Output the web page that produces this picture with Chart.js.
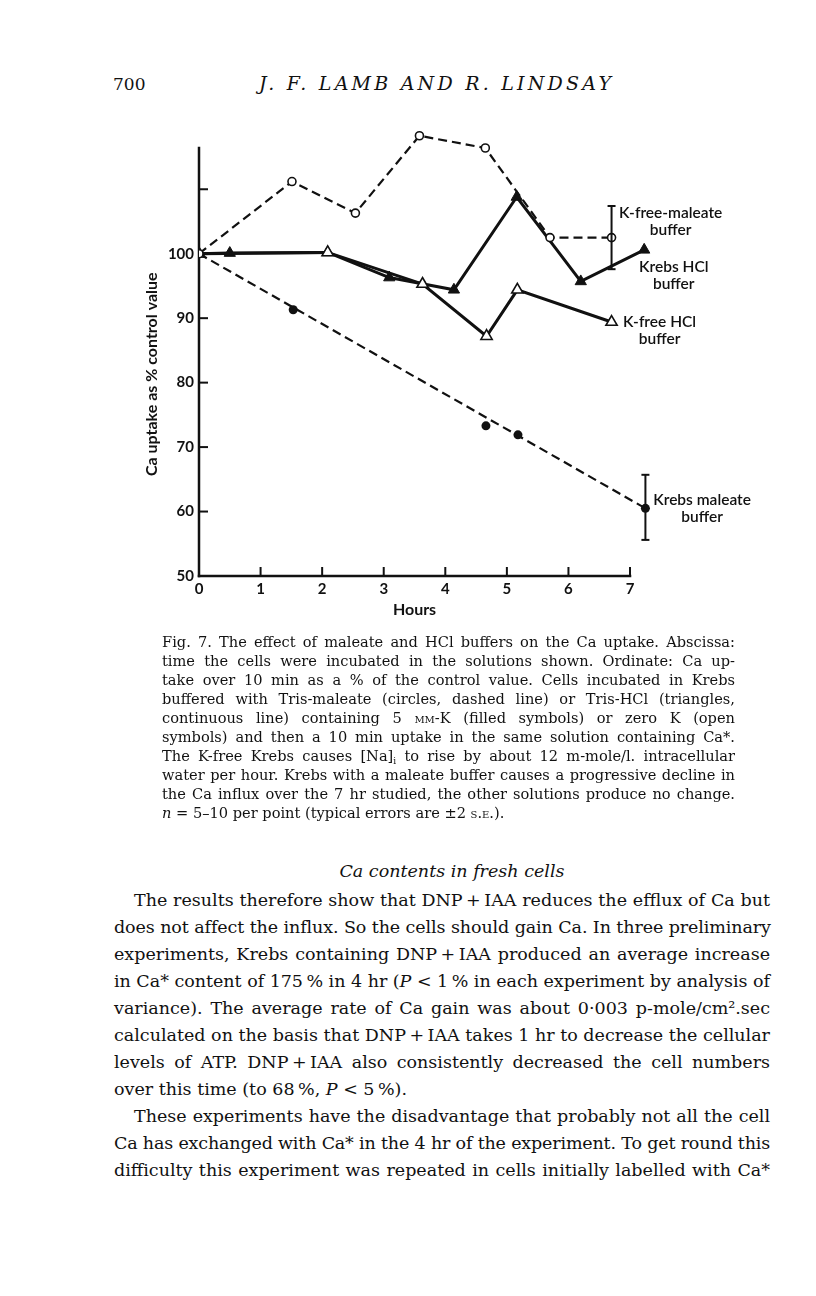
<!DOCTYPE html>
<html>
<head>
<meta charset="utf-8">
<script src="https://cdn.jsdelivr.net/npm/chart.js@4"></script>
<style>
  html, body { margin: 0; padding: 0; background: #fff; }
  body { position: relative; width: 816px; height: 1296px; overflow: hidden;
         font-family: "DejaVu Serif", serif; color: #111; }
  .abs { position: absolute; white-space: nowrap; }
  #chart { position: absolute; left: 100px; top: 110px; }
  .blk { position: absolute; }
  .ln { white-space: nowrap; }
  .ln.j { text-align: justify; text-align-last: justify; }
  .ind { text-indent: 20px; }
  .sc { font-variant: small-caps; }
  sub { font-size: 9px; line-height: 0; vertical-align: -3px; }
  i { font-style: italic; }
</style>
</head>
<body>
<div class="abs" style="left:113px;top:74px;font-size:17px">700</div>
<div class="abs" id="runhead" style="left:259px;top:72px;font-size:19px;font-style:italic">J. F. LAMB AND R. LINDSAY</div>

<canvas id="chart" width="680" height="526"></canvas>

<div class="blk" style="left:162px;top:632px;width:573px;font-size:14.6px;line-height:19px">
  <div class="ln"><span>Fig. 7. The effect of maleate and HCl buffers on the Ca uptake. Abscissa:</span></div>
  <div class="ln"><span>time the cells were incubated in the solutions shown. Ordinate: Ca up-</span></div>
  <div class="ln"><span>take over 10 min as a % of the control value. Cells incubated in Krebs</span></div>
  <div class="ln"><span>buffered with Tris-maleate (circles, dashed line) or Tris-HCl (triangles,</span></div>
  <div class="ln"><span>continuous line) containing 5 <span class="sc">mm</span>-K (filled symbols) or zero K (open</span></div>
  <div class="ln"><span>symbols) and then a 10 min uptake in the same solution containing Ca*.</span></div>
  <div class="ln"><span>The K-free Krebs causes [Na]<sub>i</sub> to rise by about 12 m-mole/l. intracellular</span></div>
  <div class="ln"><span>water per hour. Krebs with a maleate buffer causes a progressive decline in</span></div>
  <div class="ln"><span>the Ca influx over the 7 hr studied, the other solutions produce no change.</span></div>
  <div class="ln last"><span><i>n</i> = 5–10 per point (typical errors are ±2 <span class="sc">s.e.</span>).</span></div>
</div>

<div class="abs" style="left:124px;width:656px;top:861px;font-size:17.5px;font-style:italic;text-align:center">Ca contents in fresh cells</div>

<div class="blk" style="left:114px;top:887px;width:656px;font-size:17.5px;line-height:27px">
  <div class="ln ind"><span>The results therefore show that DNP&#8201;+&#8201;IAA reduces the efflux of Ca but</span></div>
  <div class="ln"><span>does not affect the influx. So the cells should gain Ca. In three preliminary</span></div>
  <div class="ln"><span>experiments, Krebs containing DNP&#8201;+&#8201;IAA produced an average increase</span></div>
  <div class="ln"><span>in Ca* content of 175&#8201;% in 4 hr (<i>P</i> &lt; 1&#8201;% in each experiment by analysis of</span></div>
  <div class="ln"><span>variance). The average rate of Ca gain was about 0·003 p-mole/cm².sec</span></div>
  <div class="ln"><span>calculated on the basis that DNP&#8201;+&#8201;IAA takes 1 hr to decrease the cellular</span></div>
  <div class="ln"><span>levels of ATP. DNP&#8201;+&#8201;IAA also consistently decreased the cell numbers</span></div>
  <div class="ln last"><span>over this time (to 68&#8201;%, <i>P</i> &lt; 5&#8201;%).</span></div>
  <div class="ln ind"><span>These experiments have the disadvantage that probably not all the cell</span></div>
  <div class="ln"><span>Ca has exchanged with Ca* in the 4 hr of the experiment. To get round this</span></div>
  <div class="ln"><span>difficulty this experiment was repeated in cells initially labelled with Ca*</span></div>
</div>

<script>
const INK = '#111'
const SANS = 'Lato, "Open Sans", sans-serif'

// axes
const HOURS_TICKS = [0, 1, 2, 3, 4, 5, 6, 7]
const PCT_TICKS = [50, 60, 70, 80, 90, 100, 110]
const X_AXIS_END = 7
const Y_AXIS_TOP = 116.4

// K-free maleate: open circles, dashed line
const KFREE_MALEATE_X = [0, 1.51, 2.54, 3.58, 4.65, 5.70, 6.70]
const KFREE_MALEATE_Y = [100, 111.2, 106.3, 118.3, 116.4, 102.5, 102.5]

// Krebs maleate: filled circles, dashed fitted line
const KREBS_MALEATE_X = [0, 1.53, 4.66, 5.18, 7.25]
const KREBS_MALEATE_Y = [100, 91.3, 73.3, 71.9, 60.5]
const KREBS_MALEATE_FIT_X = [0, 7.25]
const KREBS_MALEATE_FIT_Y = [100, 60.5]

// Krebs HCl: filled triangles, continuous line
const KREBS_HCL_X = [0, 0.5, 2.09, 3.09, 4.14, 5.16, 6.20, 7.23]
const KREBS_HCL_Y = [100, 100.1, 100.2, 96.3, 94.4, 108.8, 95.7, 100.6]

// K-free HCl: open triangles, continuous line
const KFREE_HCL_X = [0, 2.09, 3.63, 4.67, 5.17, 6.70]
const KFREE_HCL_Y = [100, 100.2, 95.3, 87.2, 94.4, 89.4]

// typical error bars (± 2 s.e.)
const ERR_X = [6.70, 7.25]
const ERR_LO = [97.6, 55.6]
const ERR_HI = [107.4, 65.7]

// curve labels, anchored in data units
const NOTE_TEXT = [['K-free-maleate', 'buffer'], ['Krebs HCl', 'buffer'], ['K-free HCl', 'buffer'], ['Krebs maleate', 'buffer']]
const NOTE_X = [7.66, 7.71, 7.48, 8.17]
const NOTE_Y = [106.3, 97.9, 89.4, 61.8]

const pts = (xs, ys) => xs.map((x, i) => ({ x, y: ys[i] }))

// axis lines that stop at 7 h / ~116 %, inward ticks, titles
const paperAxes = {
  id: 'paperAxes',
  beforeDatasetsDraw(chart) {
    const { ctx, scales: { x, y } } = chart
    const seg = (x1, y1, x2, y2) => { ctx.beginPath(); ctx.moveTo(x1, y1); ctx.lineTo(x2, y2); ctx.stroke() }
    const x0 = x.getPixelForValue(0), x7 = x.getPixelForValue(X_AXIS_END)
    const y50 = y.getPixelForValue(50), yTop = y.getPixelForValue(Y_AXIS_TOP)
    ctx.save()
    ctx.strokeStyle = INK
    ctx.lineCap = 'square'
    ctx.lineWidth = 2.5
    seg(x0, y50, x7, y50)
    seg(x0, y50, x0, yTop)
    ctx.lineWidth = 2
    ctx.lineCap = 'butt'
    HOURS_TICKS.slice(1).forEach(h => {
      const px = x.getPixelForValue(h)
      seg(px, y50, px, y50 - 9)
    })
    PCT_TICKS.slice(1).forEach(v => {
      const py = y.getPixelForValue(v)
      seg(x0, py, x0 + 9, py)
    })

    ctx.fillStyle = INK
    ctx.textAlign = 'center'
    ctx.textBaseline = 'middle'
    ctx.font = 'bold 16px ' + SANS
    ctx.fillText('Hours', x.getPixelForValue(3.5), y50 + 34)
    ctx.translate(x0 - 47, y.getPixelForValue(81.3))
    ctx.rotate(-Math.PI / 2)
    ctx.fillText('Ca uptake as % control value', 0, 0)
    ctx.restore()
  },
  afterDatasetsDraw(chart) {
    const { ctx, scales: { x, y } } = chart
    const seg = (x1, y1, x2, y2) => { ctx.beginPath(); ctx.moveTo(x1, y1); ctx.lineTo(x2, y2); ctx.stroke() }
    ctx.save()
    ctx.strokeStyle = INK
    ctx.lineWidth = 2
    ERR_X.forEach((ex, i) => {
      const px = x.getPixelForValue(ex)
      const lo = y.getPixelForValue(ERR_LO[i])
      const hi = y.getPixelForValue(ERR_HI[i])
      seg(px, lo, px, hi)
      seg(px - 4, lo, px + 4, lo)
      seg(px - 4, hi, px + 4, hi)
    })
    ctx.fillStyle = INK
    ctx.font = '600 15.5px ' + SANS
    ctx.textAlign = 'center'
    ctx.textBaseline = 'middle'
    NOTE_TEXT.forEach((lines, i) => {
      const cx = x.getPixelForValue(NOTE_X[i])
      const cy = y.getPixelForValue(NOTE_Y[i])
      lines.forEach((t, j) => ctx.fillText(t, cx, cy + j * 17))
    })
    ctx.restore()
  }
}

const tickFont = { family: SANS, size: 15, weight: 'bold' }
const dashed = { borderColor: INK, borderWidth: 2.2, borderDash: [9, 5] }
const solid = { borderColor: INK, borderWidth: 3 }

new Chart(document.getElementById('chart'), {
  type: 'line',
  data: {
    datasets: [
      {
        label: 'K-free maleate', ...dashed,
        data: pts(KFREE_MALEATE_X, KFREE_MALEATE_Y),
        pointStyle: 'circle', pointRadius: 4, pointBorderWidth: 1.6,
        pointBackgroundColor: '#fff', pointBorderColor: INK
      },
      {
        label: 'Krebs maleate fit', ...dashed,
        data: pts(KREBS_MALEATE_FIT_X, KREBS_MALEATE_FIT_Y),
        pointRadius: 0
      },
      {
        label: 'Krebs maleate',
        data: pts(KREBS_MALEATE_X, KREBS_MALEATE_Y),
        showLine: false,
        pointStyle: 'circle', pointRadius: 4.5, pointBorderWidth: 0,
        pointBackgroundColor: INK
      },
      {
        label: 'K-free HCl', ...solid,
        data: pts(KFREE_HCL_X, KFREE_HCL_Y),
        pointStyle: 'triangle', pointRadius: 6.5, pointBorderWidth: 1.6,
        pointBackgroundColor: '#fff', pointBorderColor: INK
      },
      {
        label: 'Krebs HCl', ...solid,
        data: pts(KREBS_HCL_X, KREBS_HCL_Y),
        pointStyle: 'triangle', pointRadius: 6.5, pointBorderWidth: 1,
        pointBackgroundColor: INK, pointBorderColor: INK
      }
    ]
  },
  options: {
    responsive: false,
    animation: false,
    layout: { padding: { left: 0, top: 14.8, right: 88.4, bottom: 0 } },
    plugins: { legend: { display: false }, tooltip: { enabled: false } },
    scales: {
      x: {
        type: 'linear', min: 0, max: 8,
        afterFit: s => { s.height = 60 },
        afterBuildTicks: s => { s.ticks = HOURS_TICKS.map(v => ({ value: v })) },
        grid: { display: false, drawTicks: false },
        border: { display: false },
        ticks: { color: INK, font: tickFont, padding: 4, maxRotation: 0 }
      },
      y: {
        type: 'linear', min: 50, max: 120,
        afterFit: s => { s.width = 99 },
        afterBuildTicks: s => { s.ticks = PCT_TICKS.map(v => ({ value: v })) },
        grid: { display: false, drawTicks: false },
        border: { display: false },
        ticks: { color: INK, font: tickFont, padding: 5, callback: v => (v <= 100 ? v : '') }
      }
    }
  },
  plugins: [paperAxes]
})

// lay out each printed line on its own, squeezing it if the font runs wide
function setLines() {
  document.querySelectorAll('.ln').forEach(el => {
    const span = el.firstElementChild
    const indent = el.classList.contains('ind') ? 20 : 0
    const avail = el.clientWidth - indent
    const w = span.getBoundingClientRect().width
    if (w > avail) span.style.letterSpacing = ((avail - w) / span.textContent.length).toFixed(3) + 'px'
    if (!el.classList.contains('last')) el.classList.add('j')
  })
  const rh = document.getElementById('runhead')
  const w = rh.getBoundingClientRect().width
  rh.style.letterSpacing = ((352 - w) / (rh.textContent.length - 1)).toFixed(3) + 'px'
}
setLines()
</script>
</body>
</html>
